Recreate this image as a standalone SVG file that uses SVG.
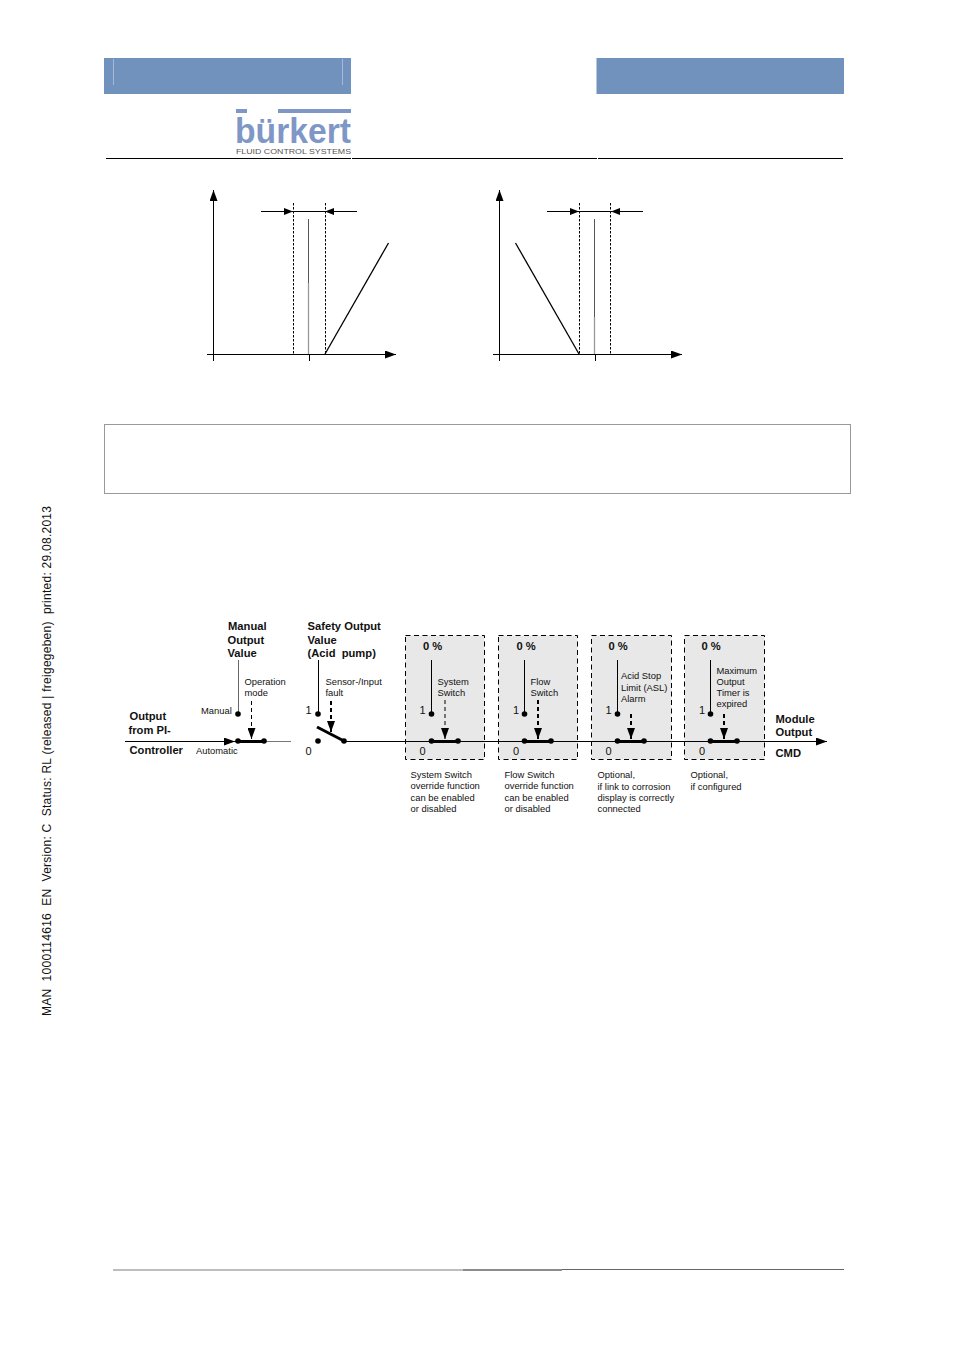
<svg xmlns="http://www.w3.org/2000/svg" width="954" height="1350" viewBox="0 0 954 1350">
<style>
text{font-family:"Liberation Sans",Arial,sans-serif;fill:#111;white-space:pre}
.s{font-size:9.4px}
.b{font-size:11.2px;font-weight:bold}
.n{font-size:11px}
.l{stroke:#000;stroke-width:1;fill:none}
.th{stroke:#000;stroke-width:3;fill:none}
.d{stroke:#000;stroke-width:1;stroke-dasharray:2.500 1.500;fill:none}
.da{stroke:#000;stroke-width:1;stroke-dasharray:4 3;fill:none}
.dd{stroke:#000;stroke-width:2;stroke-dasharray:4 3;fill:none}
.box{fill:#e8e8e8;stroke:#000;stroke-width:1;stroke-dasharray:5 3.500}
</style>
<defs>
<marker id="a" markerUnits="userSpaceOnUse" markerWidth="12" markerHeight="8" refX="11" refY="4" orient="auto"><path d="M0 0L11 4L0 8Z" fill="#000"/></marker>
<marker id="as" markerUnits="userSpaceOnUse" markerWidth="10" markerHeight="8" refX="9" refY="3.500" orient="auto"><path d="M0 0L9 3.500L0 7Z" fill="#000"/></marker>
</defs>
<rect width="954" height="1350" fill="#fff"/>
<g id="header">
<rect x="104" y="58" width="247" height="36" fill="#7092bc"/>
<path d="M113.500 59V85M342.500 59V85" stroke="#a5bad4" stroke-width="1"/>
<rect x="596.500" y="58" width="247.500" height="36" fill="#7092bc"/>
<g id="logo">
<rect x="236" y="109" width="11" height="4" fill="#7f97c6"/><rect x="278" y="109" width="73" height="4" fill="#7f97c6"/>
<text x="235" y="143" font-size="35" font-weight="bold" style="fill:#7f97c6" textLength="116" lengthAdjust="spacingAndGlyphs">bürkert</text>
<text x="236" y="154" font-size="8" style="fill:#555" textLength="115" lengthAdjust="spacingAndGlyphs">FLUID CONTROL SYSTEMS</text>
</g>
<path d="M106 158.500H843" stroke="#000" stroke-width="1"/>
<path d="M351.500 155V159M597.500 155V159" stroke="#fff" stroke-width="1"/>
</g>
<g id="chart-left">
<path class="l" d="M213.500 361V190" marker-end="url(#a)"/>
<path class="l" d="M207 354.500H396" marker-end="url(#a)"/>
<path class="d" d="M293.500 203V354M325.500 203V354"/>
<path class="l" d="M261 211.500H293" marker-end="url(#as)"/>
<path class="l" d="M357 211.500H325" marker-end="url(#as)"/>
<path class="l" d="M293 211.500H325"/>
<path d="M308.500 219V283" stroke="#555" stroke-width="1"/>
<path d="M308.500 283V354" stroke="#999" stroke-width="1.300"/>
<path class="l" d="M309.500 354V361"/>
<path d="M325 354L388.500 243" stroke="#000" stroke-width="1.300" fill="none"/>
</g>
<g id="chart-right">
<path class="l" d="M499.500 361V190" marker-end="url(#a)"/>
<path class="l" d="M493 354.500H682" marker-end="url(#a)"/>
<path class="d" d="M579.500 203V354M610.500 203V354"/>
<path class="l" d="M547 211.500H579" marker-end="url(#as)"/>
<path class="l" d="M643 211.500H611" marker-end="url(#as)"/>
<path class="l" d="M579 211.500H611"/>
<path d="M594.500 219V317" stroke="#555" stroke-width="1"/>
<path d="M594.500 317V354" stroke="#999" stroke-width="1.300"/>
<path class="l" d="M595.500 354V361"/>
<path d="M579 354L515.500 243" stroke="#000" stroke-width="1.300" fill="none"/>
</g>
<rect id="note" x="104.500" y="424.500" width="746" height="69" fill="#fff" stroke="#999" stroke-width="1"/>
<g id="side-text"><text transform="translate(50.500 1016) rotate(-90)" font-size="12" textLength="510" lengthAdjust="spacing">MAN  1000114616  EN  Version: C  Status: RL (released | freigegeben)  printed: 29.08.2013</text></g>
<g id="box1"><rect class="box" x="405.500" y="635.500" width="79" height="124"/></g>
<g id="box2"><rect class="box" x="498.500" y="635.500" width="79" height="124"/></g>
<g id="box3"><rect class="box" x="591.500" y="635.500" width="80" height="124"/></g>
<g id="box4"><rect class="box" x="684.500" y="635.500" width="80" height="124"/></g>
<g id="connectors">
<path class="l" d="M125 741.500H235" marker-end="url(#a)"/>
<path class="l" d="M235 741.500H240"/>
<path d="M264 741.500H291" stroke="#777" stroke-width="1"/>
<path class="l" d="M344 741.500H827" marker-end="url(#a)"/>
<path d="M238.500 660V714" stroke="#666" stroke-width="1"/>
<path class="da" d="M251.500 701V739" marker-end="url(#a)"/>
<path d="M238 741.500H264" class="th"/>
<path class="l" d="M318.500 660V714"/>
<path class="dd" d="M331 701V732" marker-end="url(#a)"/>
<path d="M317 727L344 741" class="th" stroke-width="2.500"/>
<path class="l" d="M431.500 660V714"/><path class="da" d="M445 700V739" marker-end="url(#a)"/><path d="M431 741.500H458" class="th"/>
<path class="l" d="M524.500 660V714"/><path class="dd" d="M538 700V739" marker-end="url(#a)"/><path d="M524 741.500H551" class="th"/>
<path class="l" d="M617.500 660V714"/><path class="dd" d="M631 714V739" marker-end="url(#a)"/><path d="M617 741.500H644" class="th"/>
<path class="l" d="M710.500 660V714"/><path class="dd" d="M724 714V739" marker-end="url(#a)"/><path d="M710 741.500H737" class="th"/>
<g fill="#000">
<circle cx="238" cy="714" r="2.800"/><circle cx="238" cy="741" r="2.800"/><circle cx="264" cy="741" r="2.800"/>
<circle cx="318" cy="714" r="2.800"/><circle cx="318" cy="741" r="2.800"/><circle cx="344" cy="741" r="2.800"/>
<circle cx="431.500" cy="714" r="2.800"/><circle cx="431.500" cy="741" r="2.800"/><circle cx="458" cy="741" r="2.800"/>
<circle cx="524.500" cy="714" r="2.800"/><circle cx="524.500" cy="741" r="2.800"/><circle cx="551" cy="741" r="2.800"/>
<circle cx="617.500" cy="714" r="2.800"/><circle cx="617.500" cy="741" r="2.800"/><circle cx="644" cy="741" r="2.800"/>
<circle cx="710.500" cy="714" r="2.800"/><circle cx="710.500" cy="741" r="2.800"/><circle cx="737" cy="741" r="2.800"/>
</g>
</g>
<g id="labels-left">
<text class="b" x="228" y="630">Manual</text><text class="b" x="227.500" y="644">Output</text><text class="b" x="227.500" y="657">Value</text>
<text class="b" x="307.500" y="630">Safety Output</text><text class="b" x="307.500" y="644">Value</text><text class="b" x="307.500" y="657">(Acid  pump)</text>
<text class="s" x="244.500" y="685">Operation</text><text class="s" x="244.500" y="696">mode</text>
<text class="s" x="325.500" y="685">Sensor-/Input</text><text class="s" x="325.500" y="696">fault</text>
<text class="s" x="201" y="714">Manual</text><text class="s" x="196" y="754">Automatic</text>
<text class="b" x="129.500" y="720">Output</text><text class="b" x="128.500" y="734">from PI-</text><text class="b" x="129.500" y="754">Controller</text>
<text class="n" x="305.500" y="714">1</text><text class="n" x="305.500" y="755">0</text>
</g>
<g id="labels-boxes">
<text class="b" x="423" y="650">0 %</text><text class="b" x="516.500" y="650">0 %</text><text class="b" x="608.500" y="650">0 %</text><text class="b" x="701.500" y="650">0 %</text>
<text class="n" x="419.500" y="714">1</text><text class="n" x="513" y="714">1</text><text class="n" x="605.500" y="714">1</text><text class="n" x="699" y="714">1</text>
<text class="n" x="419.500" y="755">0</text><text class="n" x="513" y="755">0</text><text class="n" x="605.500" y="755">0</text><text class="n" x="699" y="755">0</text>
<text class="s" x="437.500" y="685">System</text><text class="s" x="437.500" y="696">Switch</text>
<text class="s" x="530.500" y="685">Flow</text><text class="s" x="530.500" y="696">Switch</text>
<text class="s" x="621" y="679">Acid Stop</text><text class="s" x="621" y="691">Limit (ASL)</text><text class="s" x="621" y="702">Alarm</text>
<text class="s" x="716.500" y="674">Maximum</text><text class="s" x="716.500" y="685">Output</text><text class="s" x="716.500" y="696">Timer is</text><text class="s" x="716.500" y="707">expired</text>
<text class="s" x="410.500" y="778">System Switch</text><text class="s" x="410.500" y="789">override function</text><text class="s" x="410.500" y="801">can be enabled</text><text class="s" x="410.500" y="812">or disabled</text>
<text class="s" x="504.500" y="778">Flow Switch</text><text class="s" x="504.500" y="789">override function</text><text class="s" x="504.500" y="801">can be enabled</text><text class="s" x="504.500" y="812">or disabled</text>
<text class="s" x="597.500" y="778">Optional,</text><text class="s" x="597.500" y="790">if link to corrosion</text><text class="s" x="597.500" y="801">display is correctly</text><text class="s" x="597.500" y="812">connected</text>
<text class="s" x="690.500" y="778">Optional,</text><text class="s" x="690.500" y="790">if configured</text>
<text class="b" x="775.500" y="723">Module</text><text class="b" x="775.500" y="736">Output</text><text class="b" x="775.500" y="757">CMD</text>
</g>
<g id="footer"><path d="M113 1270H463" stroke="#a8a8a8" stroke-width="1.500"/><path d="M463 1270H562" stroke="#666" stroke-width="1.500"/><path d="M562 1269.500H844" stroke="#666" stroke-width="1"/></g>
</svg>
